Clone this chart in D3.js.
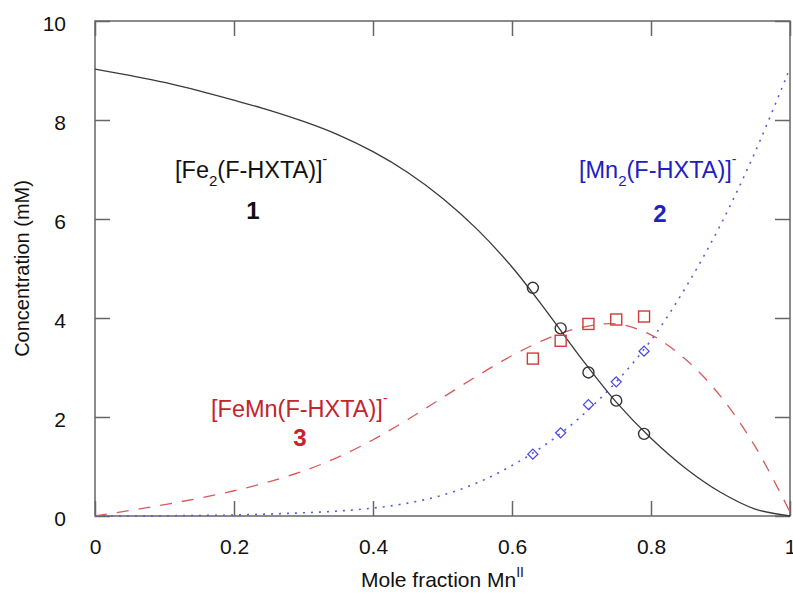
<!DOCTYPE html>
<html>
<head>
<meta charset="utf-8">
<script src="https://cdn.jsdelivr.net/npm/d3@7"></script>
<style>
  html, body { margin: 0; padding: 0; background: #fff; }
  svg { display: block; }
  text { font-family: "Liberation Sans", Arial, Helvetica, sans-serif; }
</style>
</head>
<body>
<svg id="chart" width="793" height="594"></svg>
<script>
// ---- data ----
const curveX   = [0, 0.05, 0.1, 0.15, 0.2, 0.25, 0.3, 0.35, 0.4, 0.45, 0.5, 0.55, 0.6, 0.65, 0.7, 0.75, 0.8, 0.85, 0.9, 0.95, 1.0];
const fe2Curve = [9.03, 8.90, 8.76, 8.59, 8.40, 8.20, 7.97, 7.70, 7.36, 6.94, 6.42, 5.79, 5.03, 4.13, 3.18, 2.30, 1.57, 0.96, 0.48, 0.14, 0.0];
const femnCurve= [0.0, 0.11, 0.23, 0.36, 0.51, 0.69, 0.91, 1.19, 1.54, 1.95, 2.39, 2.83, 3.24, 3.58, 3.81, 3.88, 3.66, 3.16, 2.42, 1.40, 0.08];
const mn2Curve = [0.0, 0.0, 0.005, 0.01, 0.02, 0.04, 0.065, 0.10, 0.16, 0.26, 0.42, 0.67, 1.02, 1.46, 2.02, 2.71, 3.55, 4.62, 5.88, 7.36, 9.05];

const ptX      = [0.63, 0.67, 0.71, 0.75, 0.79];
const fe2Pts   = [4.61, 3.79, 2.90, 2.33, 1.66];
const femnPts  = [3.18, 3.54, 3.88, 3.97, 4.03];
const mn2Pts   = [1.25, 1.68, 2.25, 2.71, 3.33];

const xTicks = [0, 0.2, 0.4, 0.6, 0.8, 1];
const xTickLabels = ["0", "0.2", "0.4", "0.6", "0.8", "1"];
const yTicks = [0, 2, 4, 6, 8, 10];

// ---- layout ----
const svg = d3.select("#chart");
const L = 95, R = 790, T = 21, B = 516;
const x = d3.scaleLinear().domain([0, 1]).range([L, R]);
const y = d3.scaleLinear().domain([0, 10]).range([B, T]);

const axisColor = "#666";
const tick = 15;

// frame
svg.append("rect").attr("x", L).attr("y", T).attr("width", R - L).attr("height", B - T)
  .attr("fill", "none").attr("stroke", axisColor).attr("stroke-width", 1.5);

function styleAxis(g) {
  g.select(".domain").remove();
  g.selectAll(".tick line").attr("stroke", axisColor).attr("stroke-width", 1.5);
}

// bottom
svg.append("g").attr("transform", `translate(0,${B})`)
  .call(d3.axisBottom(x).tickValues(xTicks).tickSizeInner(-tick).tickSizeOuter(0).tickPadding(0)
    .tickFormat((d, i) => xTickLabels[i]))
  .call(styleAxis)
  .call(g => g.selectAll(".tick text").attr("font-size", 21).attr("fill", "#111")
    .attr("y", 38).attr("dy", 0));
// top
svg.append("g").attr("transform", `translate(0,${T})`)
  .call(d3.axisTop(x).tickValues(xTicks).tickSizeInner(-tick).tickSizeOuter(0).tickFormat(""))
  .call(styleAxis);
// left
svg.append("g").attr("transform", `translate(${L},0)`)
  .call(d3.axisLeft(y).tickValues(yTicks).tickSizeInner(-tick).tickSizeOuter(0).tickFormat(d3.format("d")))
  .call(styleAxis)
  .call(g => g.selectAll(".tick text").attr("font-size", 21).attr("fill", "#111")
    .attr("x", -29).attr("dy", "0.45em"));
// right
svg.append("g").attr("transform", `translate(${R},0)`)
  .call(d3.axisRight(y).tickValues(yTicks).tickSizeInner(-tick).tickSizeOuter(0).tickFormat(""))
  .call(styleAxis);

// axis titles
svg.append("text").attr("transform", `translate(29,${(T + B) / 2}) rotate(-90)`)
  .attr("text-anchor", "middle").attr("font-size", 20).attr("fill", "#111")
  .text("Concentration (mM)");
const xt = svg.append("text").attr("x", (L + R) / 2).attr("y", 587)
  .attr("text-anchor", "middle").attr("font-size", 21).attr("fill", "#111");
xt.append("tspan").text("Mole fraction Mn");
xt.append("tspan").attr("font-size", 14).attr("dy", -10).text("II");

// ---- curves ----
const line = vals => d3.line().x((d, i) => x(curveX[i])).y(d => y(d)).curve(d3.curveCatmullRom.alpha(0.5))(vals);

svg.append("path").attr("d", line(femnCurve)).attr("fill", "none")
  .attr("stroke", "#d9585a").attr("stroke-width", 1.3).attr("stroke-dasharray", "12,10");
svg.append("path").attr("d", line(mn2Curve)).attr("fill", "none")
  .attr("stroke", "#5a5ae0").attr("stroke-width", 1.6).attr("stroke-dasharray", "2,6");
svg.append("path").attr("d", line(fe2Curve)).attr("fill", "none")
  .attr("stroke", "#3a3a3a").attr("stroke-width", 1.3);

// ---- markers ----
svg.append("g").selectAll("circle").data(fe2Pts).join("circle")
  .attr("cx", (d, i) => x(ptX[i])).attr("cy", d => y(d)).attr("r", 5.5)
  .attr("fill", "none").attr("stroke", "#333").attr("stroke-width", 1.4);
svg.append("g").selectAll("rect").data(femnPts).join("rect")
  .attr("x", (d, i) => x(ptX[i]) - 5.5).attr("y", d => y(d) - 5.5)
  .attr("width", 11).attr("height", 11)
  .attr("fill", "none").attr("stroke", "#d23a3a").attr("stroke-width", 1.4);
svg.append("g").selectAll("path").data(mn2Pts).join("path")
  .attr("d", (d, i) => {
    const cx = x(ptX[i]), cy = y(d), s = 5;
    return `M${cx},${cy - s}L${cx + s},${cy}L${cx},${cy + s}L${cx - s},${cy}Z`;
  })
  .attr("fill", "none").attr("stroke", "#4848e0").attr("stroke-width", 1.3);

// ---- labels ----
function label(xs, ys, pre, sub, post, color, num, nx, ny) {
  const t = svg.append("text").attr("x", xs).attr("y", ys).attr("font-size", 23.5).attr("fill", color);
  t.append("tspan").text(pre);
  if (sub) {
    t.append("tspan").attr("font-size", 15).attr("dy", 8).text(sub);
    t.append("tspan").attr("dy", -8).text(post);
  } else {
    t.append("tspan").text(post);
  }
  t.append("tspan").attr("font-size", 14).attr("dy", -14).text("-");
  svg.append("text").attr("x", nx).attr("y", ny).attr("text-anchor", "middle")
    .attr("font-size", 24).attr("font-weight", "bold").attr("fill", color).text(num);
}
label(175, 178, "[Fe", "2", "(F-HXTA)]", "#111", "1", 253, 219);
label(579, 178, "[Mn", "2", "(F-HXTA)]", "#2020c0", "2", 660, 222);
label(211, 417, "[FeMn(F-HXTA)]", null, "", "#c4242a", "3", 300, 446);
</script>
</body>
</html>
